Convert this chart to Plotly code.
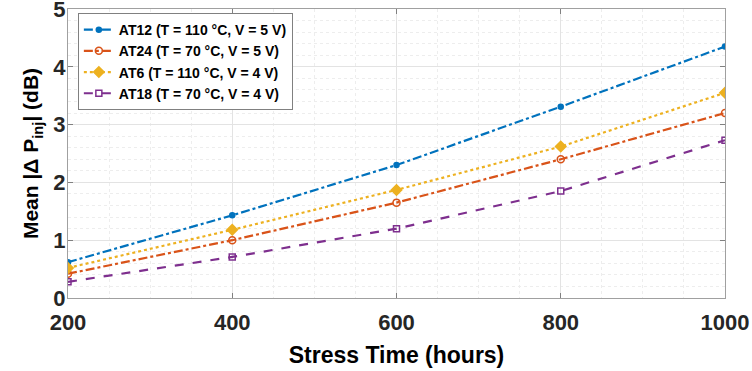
import plotly.graph_objects as go

hours = [200, 400, 600, 800, 1000]
at12 = [0.62, 1.43, 2.30, 3.31, 4.35]
at24 = [0.42, 1.00, 1.65, 2.40, 3.20]
at6 = [0.52, 1.18, 1.87, 2.62, 3.55]
at18 = [0.28, 0.71, 1.20, 1.85, 2.73]

names = ["AT12 (T = 110 °C, V = 5 V)", "AT24 (T = 70 °C, V = 5 V)",
         "AT6 (T = 110 °C, V = 4 V)", "AT18 (T = 70 °C, V = 4 V)"]
colors = ["#0072BD", "#D95319", "#EDB120", "#7E2F8E"]
dashes = ["dashdot", "dashdot", "dot", "dash"]
symbols = ["circle", "circle-open", "diamond", "square-open"]
sizes = [5, 7, 8, 6]
series = [at12, at24, at6, at18]

fig = go.Figure()
for n, s, c, d, sym, sz in zip(names, series, colors, dashes, symbols, sizes):
    fig.add_trace(go.Scatter(
        x=hours, y=s, name=n, mode="lines+markers",
        line=dict(color=c, width=2.2, dash=d),
        marker=dict(symbol=sym, size=sz, color=c, line=dict(color=c, width=1.5)),
    ))

font_fam = "Liberation Sans, Arial, sans-serif"
axis_common = dict(
    showline=True, linecolor="#A0A0A0", linewidth=1, mirror="ticks",
    ticks="inside", ticklen=5, tickcolor="#808080",
    showgrid=True, gridcolor="#E3E3E3", gridwidth=1,
    zeroline=False, automargin=False, ticklabeloverflow="allow",
    tickfont=dict(family=font_fam, size=22, color="#262626", weight="bold"),
)

fig.update_layout(
    width=752, height=371,
    margin=dict(l=68, r=27, t=9, b=73),
    plot_bgcolor="white", paper_bgcolor="white",
    font=dict(family=font_fam, color="#262626"),
    xaxis=dict(range=[200, 1000], tickvals=[200, 400, 600, 800, 1000],
               ticklabelstandoff=5,
               minor=dict(dtick=50, showgrid=True, gridcolor="#EDEDED", griddash="dot"),
               title=dict(text="Stress Time (hours)", standoff=12,
                          font=dict(family=font_fam, size=23, color="#000000", weight="bold")),
               **axis_common),
    yaxis=dict(range=[0, 5], tickvals=[0, 1, 2, 3, 4, 5],
               ticklabelstandoff=-3,
               minor=dict(dtick=0.2, showgrid=True, gridcolor="#EDEDED", griddash="dot"),
               title=dict(text="Mean |\u0394 P<sub>inj</sub>| (dB)", standoff=8,
                          font=dict(family=font_fam, size=21, color="#000000", weight="bold")),
               **axis_common),
    legend=dict(x=0.015, y=0.986, xanchor="left", yanchor="top",
                bgcolor="white", bordercolor="#808080", borderwidth=1,
                font=dict(family=font_fam, size=14, color="#000000", weight="bold"),
                tracegroupgap=0, itemwidth=30),
    showlegend=True,
)

fig.write_html("out.html", config={"displayModeBar": False},
               post_script="document.body.style.margin='0';")
